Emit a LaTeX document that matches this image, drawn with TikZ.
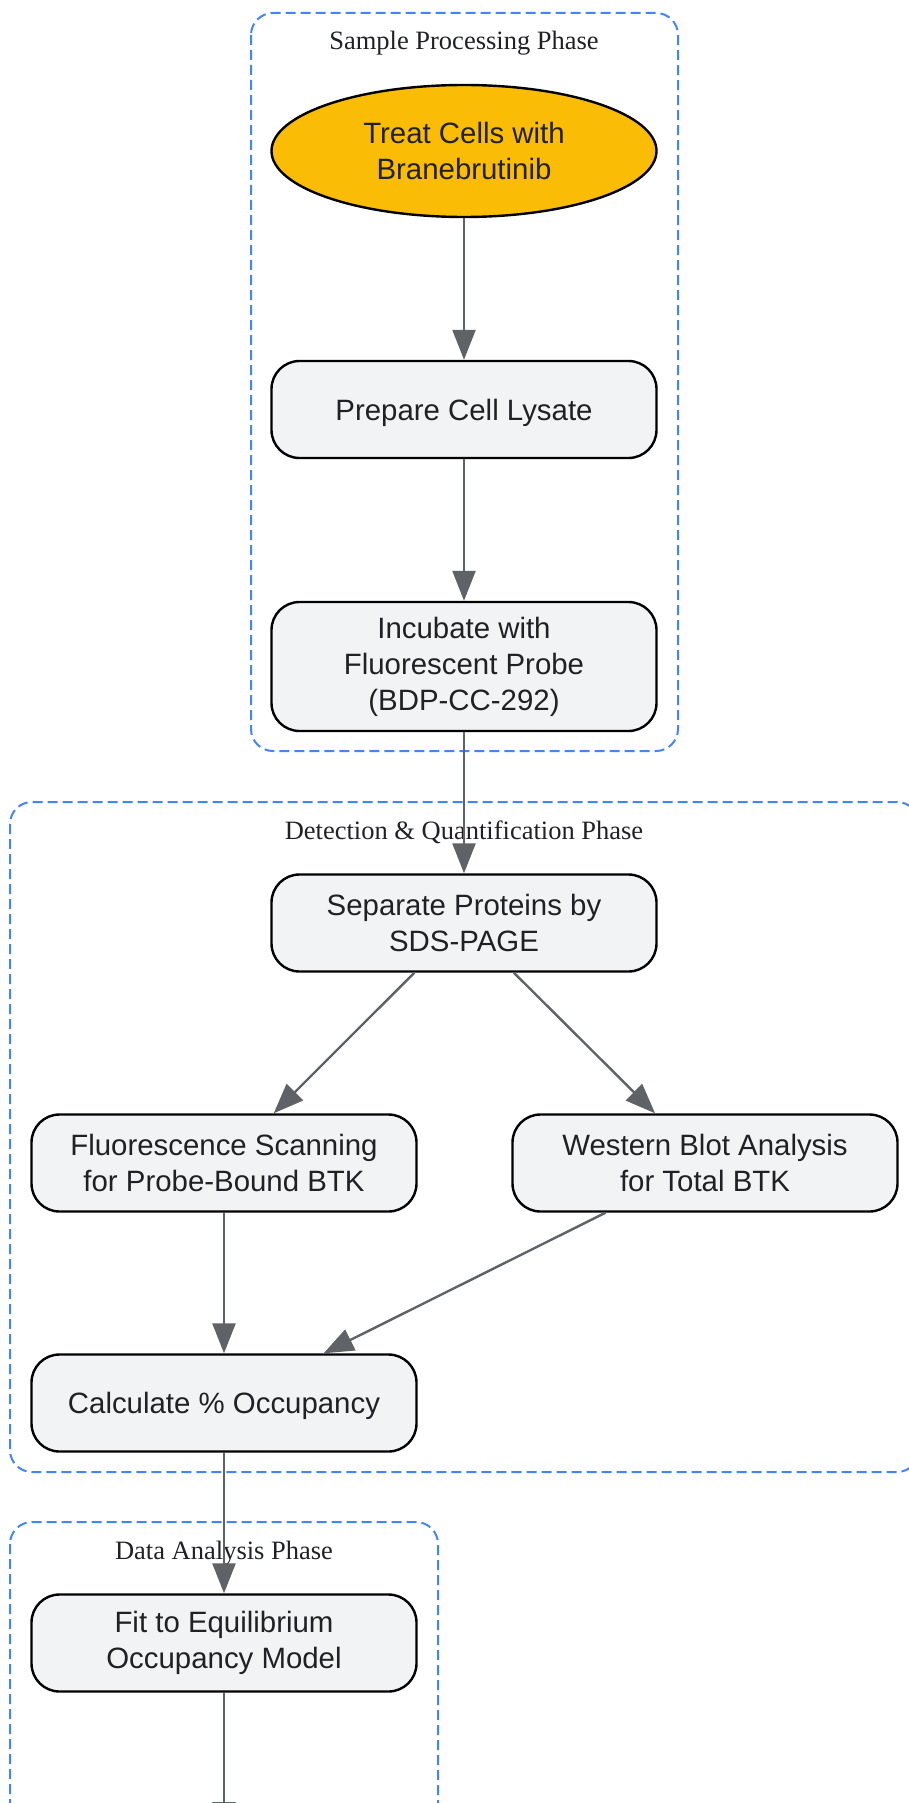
\documentclass[tikz,border=0pt]{standalone}
\usepackage{fontspec}
\setmainfont{Liberation Serif}
\setsansfont{Liberation Sans}
\usetikzlibrary{arrows.meta,shapes.geometric}
\definecolor{gblue}{HTML}{4285F4}
\definecolor{gyellow}{HTML}{FBBC05}
\definecolor{boxfill}{HTML}{F1F3F4}
\definecolor{edgegray}{HTML}{5F6368}
\definecolor{txt}{HTML}{202124}
\tikzset{
  stepbox/.style={draw=black,line width=1.2pt,fill=boxfill,rounded corners=14pt,
    minimum width=192.5pt,minimum height=48.5pt,align=center,text=txt,
    font=\sffamily\fontsize{14.7}{18}\selectfont},
  startnode/.style={stepbox,ellipse,sharp corners,fill=gyellow,minimum height=66pt},
  phase/.style={draw=gblue,line width=1pt,dash pattern=on 5pt off 2.5pt,rounded corners=11pt},
  phasetitle/.style={anchor=base,text=txt,font=\fontsize{13.25}{16}\selectfont},
  flow/.style={draw=edgegray,line width=1.2pt,-{Triangle[length=15pt,width=11.5pt]}}
}
\begin{document}
\begin{tikzpicture}[x=0.5pt,y=-0.5pt]
\path[use as bounding box,clip](0,0)rectangle(909,1803);
\foreach \xa/\ya/\xb/\yb/\tx/\ty/\ttl [count=\k] in {251/13/678/751/464/50/Sample Processing Phase,
    10/802/919/1472/464/839/Detection \& Quantification Phase,
    10/1522/438/1900/224/1559/Data Analysis Phase}{
  \draw[phase](\xa,\ya)rectangle(\xb,\yb);
  \node[phasetitle](title\k)at(\tx,\ty){\ttl};
}
\node[startnode](treat)at(464,151){Treat Cells with\\Branebrutinib};
\node[stepbox,text depth=0pt](lysate)at(464,409.5){Prepare Cell Lysate};
\node[stepbox,minimum height=64.5pt](probe)at(464,666.5){Incubate with\\Fluorescent Probe\\(BDP-CC-292)};
\node[stepbox](sds)at(464,923){Separate Proteins by\\SDS-PAGE};
\node[stepbox](fluor)at(224,1163){Fluorescence Scanning\\for Probe-Bound BTK};
\node[stepbox](wb)at(705,1163){Western Blot Analysis\\for Total BTK};
\node[stepbox,text depth=0pt](calc)at(224,1403){Calculate \% Occupancy};
\node[stepbox](fit)at(224,1643){Fit to Equilibrium\\Occupancy Model};
\coordinate(next)at(224,1832);
\foreach \a/\b in {treat/lysate,lysate/probe,probe/sds,sds/fluor,sds/wb,fluor/calc,wb/calc,calc/fit,fit/next}
  \draw[flow](\a)--(\b);
\end{tikzpicture}
\end{document}
